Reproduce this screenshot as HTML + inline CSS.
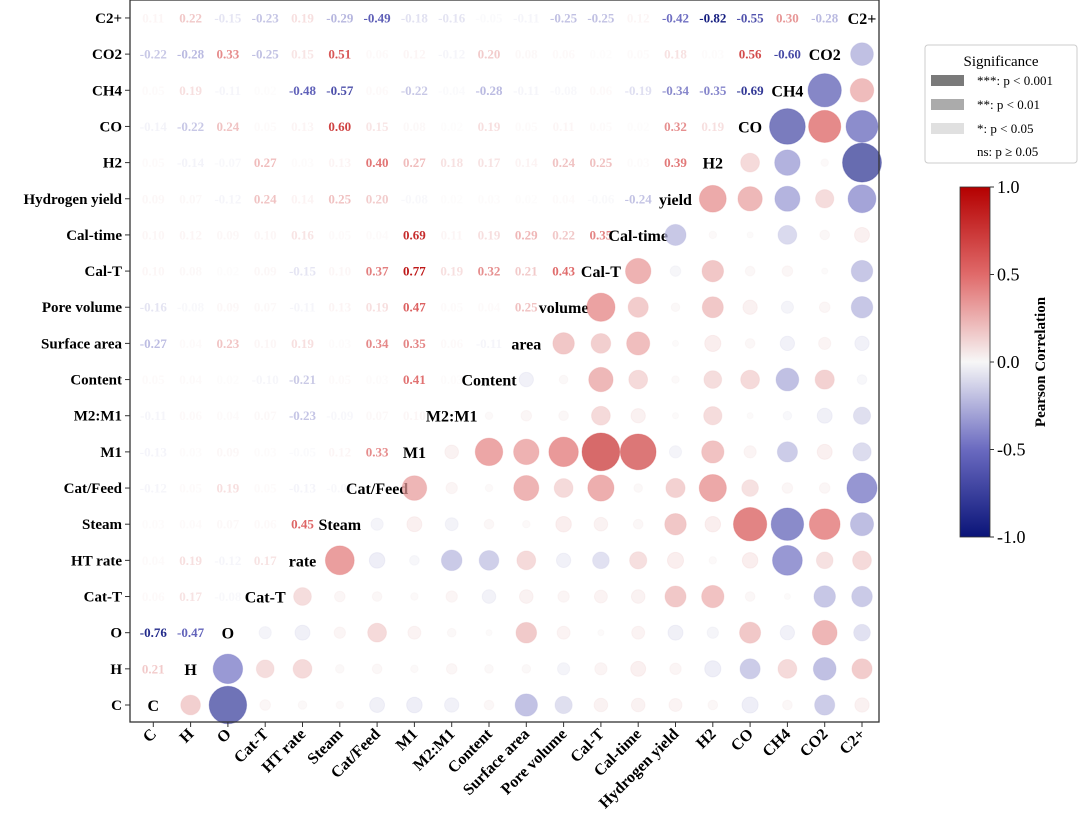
<!DOCTYPE html>
<html><head><meta charset="utf-8"><style>
body{margin:0;background:#fff}
svg{display:block;font-family:"Liberation Serif",serif}
</style></head><body>
<svg id="chart" width="1080" height="826" viewBox="0 0 1080 826">
<g id="plot"></g>
<rect x="130" y="0" width="749" height="722" fill="none" stroke="#333" stroke-width="1.3"/>
<g>
<rect x="925" y="45" width="152" height="118" rx="3" fill="#fff" stroke="#ccc"/>
<text x="1001" y="66" text-anchor="middle" font-size="15">Significance</text>
<rect x="931" y="75" width="33" height="11" fill="#7a7a7a"/>
<text x="977" y="85" font-size="13">***: p &lt; 0.001</text>
<rect x="931" y="99" width="33" height="11" fill="#ababab"/>
<text x="977" y="109" font-size="13">**: p &lt; 0.01</text>
<rect x="931" y="123" width="33" height="11" fill="#e0e0e0"/>
<text x="977" y="133" font-size="13">*: p &lt; 0.05</text>
<text x="977" y="156" font-size="13">ns: p ≥ 0.05</text>
</g>
<defs><linearGradient id="cb" x1="0" y1="0" x2="0" y2="1">
<stop offset="0" stop-color="#b40000"/><stop offset="0.25" stop-color="#e06a6a"/><stop offset="0.5" stop-color="#f7f7f7"/><stop offset="0.75" stop-color="#6a6ac0"/><stop offset="1" stop-color="#0a1478"/>
</linearGradient></defs>
<g>
<rect x="960" y="187" width="30" height="350" fill="url(#cb)" stroke="#333" stroke-width="0.8"/>
<g id="cbticks"></g>
<text transform="translate(1045,362) rotate(-90)" text-anchor="middle" font-size="15" font-weight="bold">Pearson Correlation</text>
</g>
</svg>
<script>
const labels=["C","H","O","Cat-T","HT rate","Steam","Cat/Feed","M1","M2:M1","Content","Surface area","Pore volume","Cal-T","Cal-time","Hydrogen yield","H2","CO","CH4","CO2","C2+"];
const diagLabels=["C","H","O","Cat-T","rate","Steam","Cat/Feed","M1","M2:M1","Content","area","volume","Cal-T","Cal-time","yield","H2","CO","CH4","CO2","C2+"];
const lowerRows=[
[],
[0.21],
[-0.76,-0.47],
[0.06,0.17,-0.08],
[0.04,0.19,-0.12,0.17],
[0.03,0.04,0.07,0.06,0.45],
[-0.12,0.05,0.19,0.05,-0.13,-0.08],
[-0.13,0.03,0.09,0.03,-0.05,0.12,0.33],
[-0.11,0.06,0.04,0.07,-0.23,-0.09,0.07,0.10],
[0.05,0.04,0.02,-0.10,-0.21,0.05,0.03,0.41,0.03],
[-0.27,0.04,0.23,0.10,0.19,0.03,0.34,0.35,0.06,-0.11],
[-0.16,-0.08,0.09,0.07,-0.11,0.13,0.19,0.47,0.05,0.04,0.25],
[0.10,0.08,0.02,0.09,-0.15,0.10,0.37,0.77,0.19,0.32,0.21,0.43],
[0.10,0.12,0.09,0.10,0.16,0.05,0.04,0.69,0.11,0.19,0.29,0.22,0.35],
[0.09,0.07,-0.12,0.24,0.14,0.25,0.20,-0.08,0.02,0.03,0.02,0.04,-0.06,-0.24],
[0.05,-0.14,-0.07,0.27,0.03,0.13,0.40,0.27,0.18,0.17,0.14,0.24,0.25,0.03,0.39],
[-0.14,-0.22,0.24,0.05,0.13,0.60,0.15,0.08,0.02,0.19,0.05,0.11,0.05,0.02,0.32,0.19],
[0.05,0.19,-0.11,0.02,-0.48,-0.57,0.06,-0.22,-0.04,-0.28,-0.11,-0.08,0.06,-0.19,-0.34,-0.35,-0.69],
[-0.22,-0.28,0.33,-0.25,0.15,0.51,0.06,0.12,-0.12,0.20,0.08,0.06,0.02,0.05,0.18,0.03,0.56,-0.60],
[0.11,0.22,-0.15,-0.23,0.19,-0.29,-0.49,-0.18,-0.16,-0.05,-0.11,-0.25,-0.25,0.12,-0.42,-0.82,-0.55,0.30,-0.28]
];
const cbTicks=[1.0,0.5,0.0,-0.5,-1.0];

const NS="http://www.w3.org/2000/svg";
const N=labels.length;
const xPos=c=>153.3+c*37.3;
const yPos=r=>705-r*36.16;
const cbY=v=>362-v*175;
function corr(r,c){return r>c?lowerRows[r][c]:lowerRows[c][r];}
function color(v){
  const a=Math.abs(v);let s,e,t;
  if(v>=0){ if(a<=0.5){s=[247,247,247];e=[224,106,106];t=a/0.5;}else{s=[224,106,106];e=[180,0,0];t=(a-0.5)/0.5;} }
  else { if(a<=0.5){s=[247,247,247];e=[106,106,192];t=a/0.5;}else{s=[106,106,192];e=[10,20,120];t=(a-0.5)/0.5;} }
  return "rgb("+s.map((x,i)=>Math.round(x+(e[i]-x)*t)).join(",")+")";
}
function alpha(v){const a=Math.abs(v);return a<0.15?0.22:a<0.2?0.45:a<0.3?0.7:1;}
function mk(tag,attrs,parent){const e=document.createElementNS(NS,tag);for(const k in attrs)e.setAttribute(k,attrs[k]);parent.appendChild(e);return e;}
const plot=document.getElementById("plot");
for(let r=0;r<N;r++){
  const tk=mk("line",{x1:125,x2:130,y1:yPos(r),y2:yPos(r),stroke:"#333"},plot);
  
  
  const yl=mk("text",{x:122,y:yPos(r)+5,"text-anchor":"end","font-size":15,"font-weight":"bold"},plot);
  yl.textContent=labels[r];
  
  
  const xt=mk("line",{x1:xPos(r),x2:xPos(r),y1:722,y2:727,stroke:"#333"},plot);
  
  
  const xl=mk("text",{transform:"translate("+(xPos(r)+4)+",735) rotate(-45)","text-anchor":"end","font-size":16,"font-weight":"bold"},plot);
  xl.textContent=labels[r];
  
  
  for(let c=0;c<N;c++){
    if(c===r){
      const d=mk("text",{x:xPos(c),y:yPos(r)+6,"text-anchor":"middle","font-size":16,"font-weight":"bold"},plot);
      d.textContent=diagLabels[r];
      
      
    } else if(c<r){
      const v=corr(r,c);
      const t=mk("text",{x:xPos(c),y:yPos(r)+4.5,"text-anchor":"middle","font-size":13,"font-weight":"bold",fill:color(v*1.15>1?1:v*1.15),"fill-opacity":alpha(v)},plot);
      t.textContent=v.toFixed(2);
      
      
    } else {
      const v=corr(r,c);
      const ci=mk("circle",{cx:xPos(c),cy:yPos(r),r:21.5*Math.sqrt(Math.abs(v)),fill:color(v),"fill-opacity":Math.min(0.72,alpha(v)+0.15),stroke:color(v),"stroke-opacity":0.3},plot);
      
      
    }
  }
}
const cbg=document.getElementById("cbticks");
cbTicks.forEach(v=>{
  const l=mk("line",{x1:990,x2:994,y1:cbY(v),y2:cbY(v),stroke:"#333"},cbg);
  
  
  const t=mk("text",{x:997,y:cbY(v)+6,"font-size":18},cbg);
  t.textContent=v.toFixed(1);
  
  
});
</script>
</body></html>
